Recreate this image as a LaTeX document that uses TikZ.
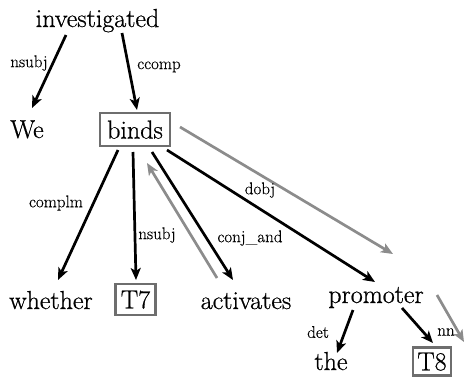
\documentclass[tikz,border=0pt]{standalone}
\usepackage{fontspec}
\setmainfont{Latin Modern Roman}
\newfontfamily\wordfont{Latin Modern Roman}[FakeBold=0.7]
\newfontfamily\labelfont{Latin Modern Roman}[FakeBold=0.4]
\usetikzlibrary{arrows.meta}
\definecolor{boxgray}{HTML}{6E6E6E}
\definecolor{arrowgray}{HTML}{8C8C8C}
\begin{document}
\begin{tikzpicture}[x=1pt,y=-1pt,
  word/.style={font=\wordfont\fontsize{26}{30}\selectfont, inner sep=0pt, anchor=base},
  boxed/.style={draw=boxgray, line width=2.5pt, font=\wordfont\fontsize{26}{30}\selectfont,
                inner sep=0pt, text depth=0pt},
  lbl/.style={font=\labelfont\fontsize{17}{20}\selectfont, inner sep=0pt},
  dep/.style={line width=2.7pt, -{Stealth[length=12pt,width=10pt,inset=3pt]}},
  hint/.style={dep, draw=arrowgray}
]
\useasboundingbox (0,0) rectangle (468,378);

% words of the sentence
\node[word] (inv) at (97.5,27) {investigated};
\node[word] (we) at (27,138) {We};
\node[boxed, minimum width=70pt, minimum height=33pt] (binds) at (135,129.5) {binds};
\node[word] (whether) at (51,309) {whether};
\node[boxed, minimum width=40pt, minimum height=31pt] (t7) at (135.5,299.5) {T7};
\node[word] (act) at (246,309) {activates};
\node[word] (prom) at (376,303) {promoter};
\node[word] (the) at (331,370) {the};
\node[boxed, minimum width=38pt, minimum height=28pt] (t8) at (432,361.5) {T8};

% open ends of the grey arrows
\coordinate (g1) at (393,254);
\coordinate (g2) at (464,342);

% dependency arcs
\draw[dep] ([shift={(-31.5,8)}]inv.base) -- ([shift={(5,-30)}]we.base);
\draw[dep] ([shift={(24.5,6)}]inv.base) -- ([shift={(2,-19.5)}]binds.center);
\draw[dep] ([shift={(-17,20.5)}]binds.center) -- ([shift={(7,-29)}]whether.base);
\draw[dep] ([shift={(-2,22.5)}]binds.center) -- ([shift={(0.5,-19.5)}]t7.center);
\draw[dep] ([shift={(17,22.5)}]binds.center) -- ([shift={(-13,-29)}]act.base);
\draw[dep] ([shift={(32,20.5)}]binds.center) -- ([shift={(-1,-21)}]prom.base);
\draw[dep] ([shift={(-23,7)}]prom.base) -- ([shift={(6,-17)}]the.base);
\draw[dep] ([shift={(26,5)}]prom.base) -- ([shift={(1,-18.5)}]t8.center);

% grey arrows
\draw[hint] ([shift={(-29,-31)}]act.base) -- ([shift={(12,33.5)}]binds.center);
\draw[hint] ([shift={(45,-2.5)}]binds.center) -- (g1);
\draw[hint] ([shift={(61,-8)}]prom.base) -- (g2);

% arc labels
\node[lbl] (l1) at (29,63) {nsubj};
\node[lbl] (l2) at (159,67) {ccomp};
\node[lbl] (l3) at (56,203) {complm};
\node[lbl] (l4) at (157,235) {nsubj};
\node[lbl] (l5) at (250,238) {conj\_and};
\node[lbl] (l6) at (260,190) {dobj};
\node[lbl] (l7) at (318,332) {det};
\node[lbl] (l8) at (446,332) {nn};
\end{tikzpicture}
\end{document}
